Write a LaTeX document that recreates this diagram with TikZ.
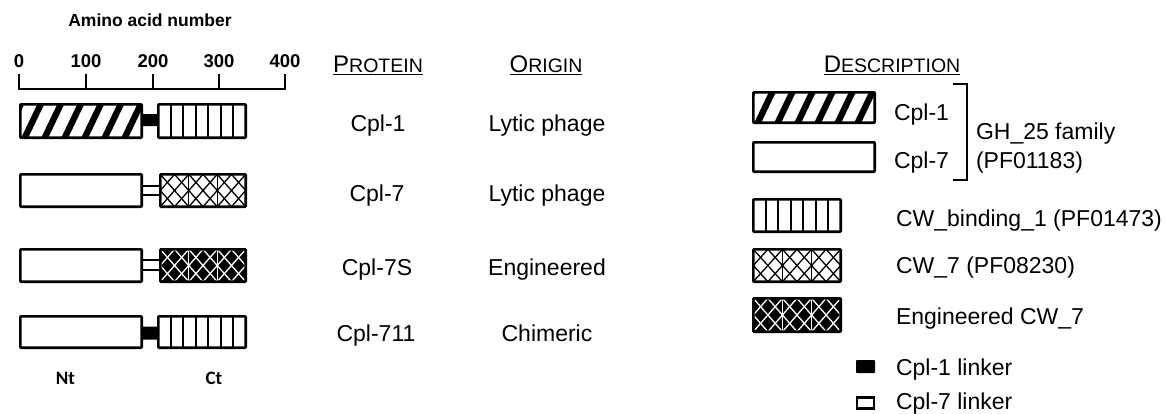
\documentclass[tikz,border=0pt]{standalone}
\usepackage{fontspec}
\setmainfont{Liberation Sans}
\newfontfamily\ntfont{Carlito}
\usetikzlibrary{calc}
\newcommand\fsc[2]{#1{\fontsize{19.5}{22}\selectfont #2}}
\newcommand\pbox[6]{%
  \pgfmathsetmacro\bw{#5-#3-2.6}\pgfmathsetmacro\bh{#6-#4-2.6}%
  \node[box,#2,minimum width=\bw pt,minimum height=\bh pt] (#1) at ({(#3+#5)/2},{(#4+#6)/2}) {};}
\begin{document}
\begin{tikzpicture}[x=1pt,y=-1pt,
  every node/.style={inner sep=0pt,outer sep=0pt},
  box/.style={draw=black,line width=2.6pt,rounded corners=0.8pt,fill=white},
  lbl/.style={anchor=base,font=\fontsize{23}{27}\selectfont},
  lgd/.style={anchor=base west,font=\fontsize{23}{27}\selectfont},
  hdr/.style={anchor=base,font=\fontsize{24}{28}\selectfont},
  num/.style={anchor=base,font=\fontsize{18.5}{21}\selectfont\bfseries},
  ttl/.style={anchor=base,font=\fontsize{17.5}{20}\selectfont\bfseries},
  nc/.style={anchor=base,font=\fontsize{19}{22}\selectfont\ntfont\bfseries},
  axis/.style={line width=2.4pt},
  uline/.style={line width=1.4pt},
  solidlink/.style={fill=black,rounded corners=0.8pt},
  openlink/.style={draw=black,fill=white,line width=2.2pt},
  hatch/.style={path picture={
    \foreach \k in {-2,...,8}{
      \fill[black] ($(path picture bounding box.south west)+(\k*20-1,4)$) -- ++(7,0) -- ++(24,-50) -- ++(-7,0) -- cycle;
    }}},
  vstripes/.style={path picture={
    \foreach \k in {1,...,6}{
      \draw[line width=2pt] ($(path picture bounding box.south west)!\k/7!(path picture bounding box.south east)$) -- ($(path picture bounding box.north west)!\k/7!(path picture bounding box.north east)$);
    }}},
  cwpat/.style={path picture={
    \coordinate (SW) at (path picture bounding box.south west);
    \coordinate (SE) at (path picture bounding box.south east);
    \coordinate (NW) at (path picture bounding box.north west);
    \coordinate (NE) at (path picture bounding box.north east);
    \coordinate (MW) at ($(SW)!.5!(NW)$);
    \coordinate (ME) at ($(SE)!.5!(NE)$);
    \foreach \c in {0,1,2}{
      \pgfmathsetmacro\cA{\c/3}\pgfmathsetmacro\cB{(\c+1)/3}\pgfmathsetmacro\cM{(\c+0.5)/3}
      \draw[#1,line width=1.3pt] ($(SW)!\cA!(SE)$) -- ($(NW)!\cB!(NE)$) ($(NW)!\cA!(NE)$) -- ($(SW)!\cB!(SE)$);
      \draw[#1,line width=1.3pt] ($(SW)!\cM!(SE)$) -- ($(MW)!\cA!(ME)$) -- ($(NW)!\cM!(NE)$) -- ($(MW)!\cB!(ME)$) -- cycle;
    }
    \foreach \k in {1,2}{\draw[#1,line width=1pt] ($(SW)!\k/3!(SE)$) -- ($(NW)!\k/3!(NE)$);}
  }},
  eng/.style={fill=black,cwpat=white},
]
\useasboundingbox (0,0) rectangle (1169,413);

% ---- axis ----
\node[ttl] (title) at (150,26) {Amino acid number};
\foreach \v/\x in {0/19,100/86,200/153,300/219,400/285}{
  \node[num] (n\v) at (\x,67) {\v};
  \coordinate (t\v) at (\x,74);
  \coordinate (b\v) at (\x,89);
  \draw[axis] (t\v) -- (b\v);
}
\draw[axis,line cap=round] (b0) -- (b400);

% ---- proteins ----
% row 1
\node[solidlink,minimum width=20pt,minimum height=12pt] (r1l) at (150,120) {};
\pbox{r1n}{hatch}{19}{103}{143}{139}
\pbox{r1c}{vstripes}{157}{103}{247}{139}
% row 2
\node[openlink,minimum width=20pt,minimum height=9pt] (r2l) at (151,190.5) {};
\pbox{r2n}{}{19}{173}{143}{208}
\pbox{r2c}{cwpat=black}{159}{173}{247}{208}
% row 3
\node[openlink,minimum width=20pt,minimum height=10pt] (r3l) at (151,265) {};
\pbox{r3n}{}{19}{248}{143}{283}
\pbox{r3c}{eng}{159}{248}{247}{283}
% row 4
\node[solidlink,minimum width=20pt,minimum height=13pt] (r4l) at (150,333) {};
\pbox{r4n}{}{19}{315}{143}{349}
\pbox{r4c}{vstripes}{157}{315}{247}{349}

\node[nc] (nt) at (65.5,384) {Nt};
\node[nc] (ct) at (214,384) {Ct};

% ---- headers ----
\node[hdr] (hprot) at (378,72) {\fsc{P}{ROTEIN}};
\node[hdr] (horig) at (546,72) {\fsc{O}{RIGIN}};
\node[hdr] (hdesc) at (892,72) {\fsc{D}{ESCRIPTION}};
\foreach \h in {hprot,horig,hdesc}{
  \draw[uline] ($(\h.base west)+(0,2.5)$) -- ($(\h.base east)+(0,2.5)$);
}

% ---- columns ----
\node[lbl] (p1) at (378,131) {Cpl-1};
\node[lbl] (o1) at (547,131) {Lytic phage};
\node[lbl] (p2) at (377,201) {Cpl-7};
\node[lbl] (o2) at (547,201) {Lytic phage};
\node[lbl] (p3) at (377,275) {Cpl-7S};
\node[lbl] (o3) at (547,275) {Engineered};
\node[lbl] (p4) at (376,341) {Cpl-711};
\node[lbl] (o4) at (547,341) {Chimeric};

% ---- legend ----
\pbox{lg1}{hatch}{752}{91}{876}{124}
\pbox{lg2}{}{752}{141}{876}{173}
\pbox{lg3}{vstripes}{752}{198}{842}{233}
\pbox{lg4}{cwpat=black}{752}{248}{842}{283}
\pbox{lg5}{eng}{752}{297}{842}{333}
\node[solidlink,minimum width=19pt,minimum height=13pt] (lg6) at (865.5,366.5) {};
\node[openlink,minimum width=17pt,minimum height=11pt] (lg7) at (865.5,403) {};

\node[lgd] (lt1) at (894,120) {Cpl-1};
\node[lgd] (lt2) at (894,168) {Cpl-7};
\node[lgd] (lgh1) at (976,139) {GH\_25 family};
\node[lgd] (lgh2) at (976,168) {(PF01183)};
\node[lgd] (lt3) at (896,226) {CW\_binding\_1 (PF01473)};
\node[lgd] (lt4) at (896,273) {CW\_7 (PF08230)};
\node[lgd] (lt5) at (896,324) {Engineered CW\_7};
\node[lgd] (lt6) at (896,375) {Cpl-1 linker};
\node[lgd] (lt7) at (896,409) {Cpl-7 linker};

\coordinate (brA) at (953,84);
\coordinate (brB) at (967,84);
\coordinate (brC) at (967,180);
\coordinate (brD) at (953,180);
\draw[line width=2.4pt] (brA) -- (brB) -- (brC) -- (brD);
\end{tikzpicture}
\end{document}
